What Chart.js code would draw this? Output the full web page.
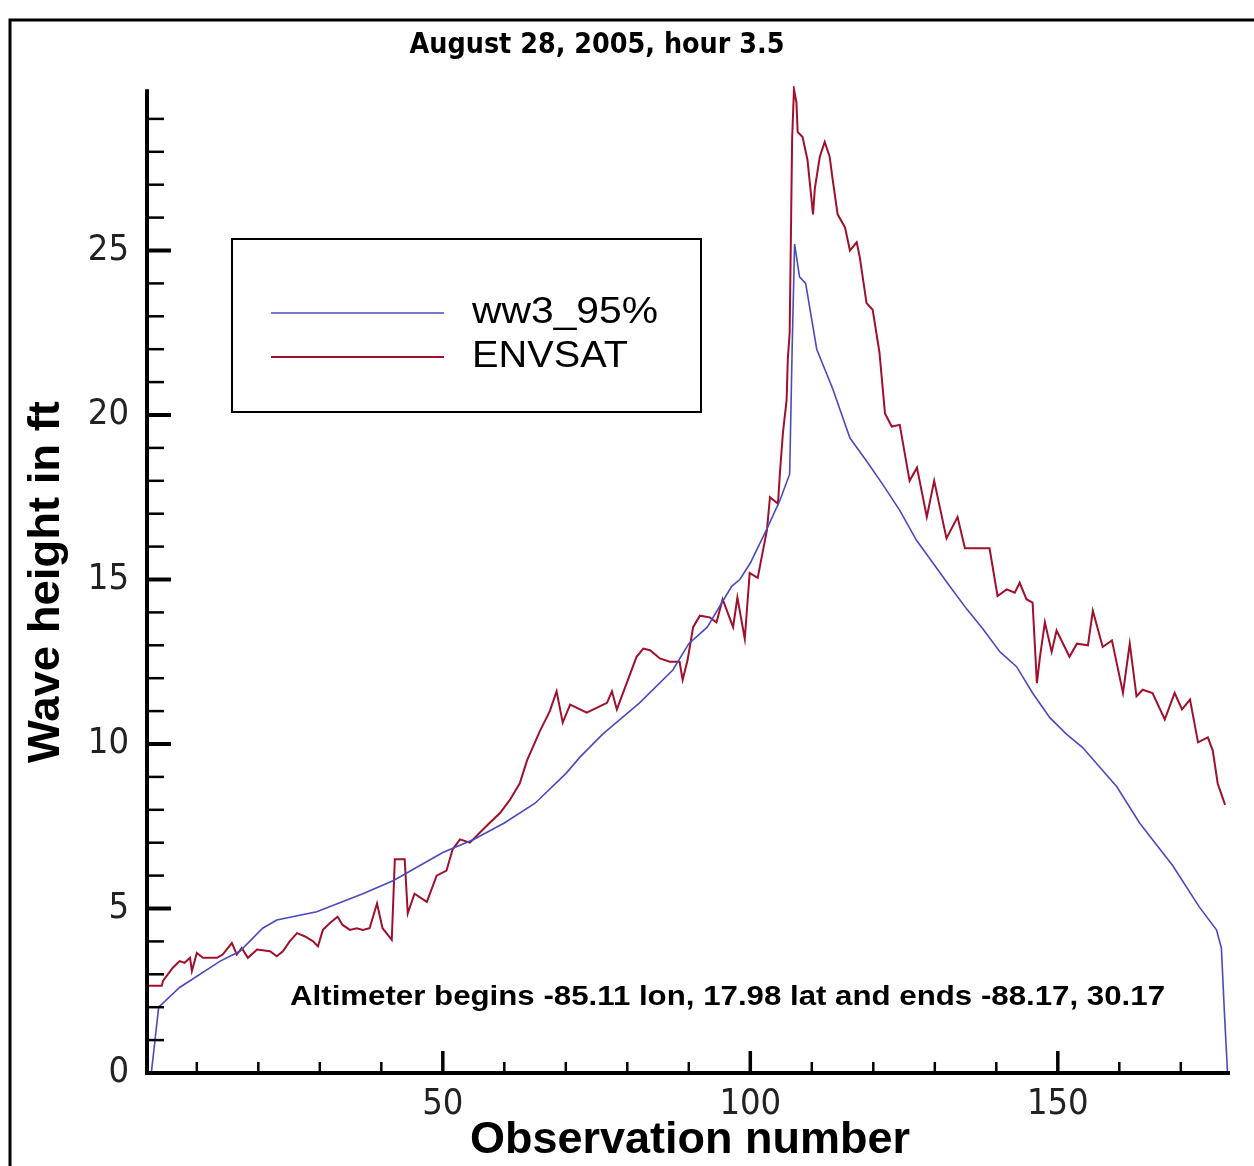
<!DOCTYPE html>
<html>
<head>
<meta charset="utf-8">
<script src="https://cdn.jsdelivr.net/npm/chart.js@4.4.0/dist/chart.umd.min.js"></script>
<style>
  body { margin: 0; background: #fff; }
  canvas { display: block; }
</style>
</head>
<body>
<canvas id="waveChart" width="1254" height="1166"></canvas>
<script>
// ENVSAT altimeter, observation number -> wave height (ft)
var envsatObs = [1.9, 4.3, 4.5, 6.1, 7.2, 8.0, 8.9, 9.2, 10.0, 11.0,
  13.3, 14.2, 15.7, 16.5, 17.3, 18.3, 19.8, 21.9, 23.0, 24.0,
  25.1, 26.3, 27.6, 28.9, 29.7, 30.5, 31.6, 32.9, 33.7, 34.9,
  36.0, 37.0, 38.1, 39.3, 40.2, 41.7, 42.2, 43.8, 44.3, 45.4,
  47.4, 49.0, 50.6, 51.6, 52.8, 54.4, 56.0, 57.6, 59.3, 60.9,
  62.5, 63.7, 65.8, 67.4, 68.5, 69.5, 70.7, 73.4, 75.0, 76.7,
  77.5, 78.3, 79.9, 81.5, 82.6, 83.7, 85.3, 86.9, 88.5, 89.0,
  89.8, 90.7, 91.8, 93.4, 94.5, 95.5, 97.2, 97.9, 99.1, 99.9,
  101.2, 102.7, 103.2, 104.5, 104.8, 105.3, 105.9, 106.1, 106.4, 106.8,
  107.1, 107.5, 107.7, 108.5, 109.3, 110.2, 110.5, 111.3, 112.1, 112.9,
  113.4, 114.2, 115.4, 116.2, 117.3, 117.8, 118.9, 119.9, 121.0, 121.9,
  123.0, 124.3, 125.9, 127.1, 128.7, 129.9, 131.9, 133.7, 134.9, 138.9,
  140.2, 141.7, 143.0, 143.8, 144.9, 145.9, 146.6, 147.1, 147.9, 149.0,
  149.8, 151.9, 153.1, 154.9, 155.7, 157.3, 158.8, 160.6, 161.7, 162.8,
  163.8, 165.4, 167.4, 169.0, 170.2, 171.5, 172.8, 174.4, 175.2, 176.0,
  177.2];
var envsatFt = [2.65, 2.65, 2.8, 3.2, 3.4, 3.35, 3.5, 3.1, 3.65, 3.5,
  3.5, 3.6, 3.95, 3.6, 3.8, 3.5, 3.75, 3.7, 3.55, 3.7,
  4.0, 4.25, 4.15, 4.0, 3.85, 4.35, 4.55, 4.75, 4.5, 4.35,
  4.4, 4.35, 4.4, 5.15, 4.4, 4.05, 6.5, 6.5, 4.85, 5.45,
  5.2, 6.0, 6.15, 6.8, 7.1, 7.0, 7.3, 7.6, 7.9, 8.3,
  8.8, 9.5, 10.4, 11.0, 11.6, 10.65, 11.2, 10.95, 11.1, 11.25,
  11.6, 11.05, 11.85, 12.65, 12.9, 12.85, 12.6, 12.5, 12.5, 11.95,
  12.55, 13.55, 13.9, 13.85, 13.7, 14.4, 13.55, 14.45, 13.2, 15.2,
  15.05, 16.5, 17.5, 17.3, 18.2, 19.45, 20.45, 21.7, 22.5, 28.4,
  29.9, 29.5, 28.6, 28.45, 27.75, 26.1, 26.9, 27.85, 28.3, 27.85,
  27.15, 26.1, 25.7, 25.0, 25.25, 24.8, 23.4, 23.2, 21.9, 20.05,
  19.65, 19.7, 18.0, 18.4, 16.9, 18.0, 16.25, 16.9, 15.95, 15.95,
  14.5, 14.7, 14.6, 14.9, 14.4, 14.3, 11.85, 12.65, 13.7, 12.8,
  13.45, 12.65, 13.05, 13.0, 14.05, 12.95, 13.15, 11.55, 13.05, 11.45,
  11.65, 11.55, 10.75, 11.55, 11.05, 11.35, 10.05, 10.2, 9.8, 8.8,
  8.15];

// ww3 model, 95th percentile
var ww3Obs = [2.6, 3.8, 7.2, 13.8, 17.0, 20.7, 23.0, 29.5, 37.0, 42.0,
  50.0, 55.0, 60.0, 65.0, 70.0, 72.3, 76.0, 82.0, 87.4, 90.0,
  93.0, 97.0, 98.3, 100.0, 102.6, 104.8, 106.4, 106.8, 107.2, 108.0,
  109.0, 110.8, 113.4, 116.2, 118.9, 121.5, 124.3, 127.0, 129.7, 132.4,
  135.2, 137.8, 140.6, 143.3, 145.9, 148.7, 151.4, 154.0, 156.8, 159.6,
  163.3, 168.7, 173.0, 175.8, 176.6, 177.1, 177.6];
var ww3Ft = [0, 2.0, 2.6, 3.4, 3.7, 4.4, 4.65, 4.9, 5.45, 5.85,
  6.7, 7.1, 7.6, 8.2, 9.1, 9.6, 10.3, 11.25, 12.25, 13.05,
  13.55, 14.8, 15.0, 15.5, 16.5, 17.4, 18.2, 22.0, 25.2, 24.2,
  24.0, 22.0, 20.8, 19.3, 18.6, 17.9, 17.1, 16.2, 15.5, 14.8,
  14.1, 13.5, 12.8, 12.35, 11.55, 10.8, 10.3, 9.9, 9.3, 8.7,
  7.6, 6.3, 5.05, 4.35, 3.8, 1.8, 0];

var xTickLabels = [50, 100, 150];
var yTickLabels = [0, 5, 10, 15, 20, 25];
var titleText = 'August 28, 2005, hour 3.5';
var noteText = 'Altimeter begins -85.11 lon, 17.98 lat and ends -88.17, 30.17';
var xTitle = 'Observation number';
var yTitle = 'Wave height in ft';

var SANS = '"Liberation Sans", Arial, sans-serif';
var NARROW = '"Liberation Sans Narrow", "DejaVu Sans Condensed", "Liberation Sans", sans-serif';

function pairs(xs, ys) {
  return xs.map(function (x, i) { return { x: x, y: ys[i] }; });
}

// draw text squeezed/stretched to a given width
function fitText(ctx, text, x, y, width, font, align) {
  ctx.save();
  ctx.font = font;
  ctx.textBaseline = 'middle';
  ctx.textAlign = 'left';
  var k = width / ctx.measureText(text).width;
  ctx.translate(align === 'center' ? x - width / 2 : x, y);
  ctx.scale(k, 1);
  ctx.fillText(text, 0, 0);
  ctx.restore();
}

var decor = {
  id: 'decor',
  afterDraw: function (chart) {
    var ctx = chart.ctx, sx = chart.scales.x, sy = chart.scales.y, a = chart.chartArea;
    var ds = chart.data.datasets;
    ctx.save();
    ctx.fillStyle = '#000';
    ctx.strokeStyle = '#000';

    // outer frame
    ctx.lineWidth = 3;
    ctx.strokeRect(10, 20, 1260, 1170);

    // axes
    ctx.lineWidth = 4;
    ctx.beginPath();
    ctx.moveTo(a.left, sy.getPixelForValue(29.9));
    ctx.lineTo(a.left, a.bottom);
    ctx.lineTo(a.right, a.bottom);
    ctx.stroke();

    // inward ticks
    for (var v = 1; v <= 29; v++) {
      var py = sy.getPixelForValue(v);
      var major = v % 5 === 0;
      ctx.lineWidth = major ? 4 : 2.5;
      ctx.beginPath();
      ctx.moveTo(a.left, py);
      ctx.lineTo(a.left + (major ? 24 : 17), py);
      ctx.stroke();
    }
    for (var t = 10; t <= 170; t += 10) {
      var px = sx.getPixelForValue(t);
      var big = t % 50 === 0;
      ctx.lineWidth = big ? 3.5 : 2.5;
      ctx.beginPath();
      ctx.moveTo(px, a.bottom);
      ctx.lineTo(px, a.bottom - (big ? 22 : 11));
      ctx.stroke();
    }

    // texts
    fitText(ctx, titleText, 597, 46, 375, 'bold 28px ' + NARROW, 'center');
    fitText(ctx, xTitle, 690, 1141, 440, 'bold 44px ' + SANS, 'center');
    ctx.save();
    ctx.translate(47, 582);
    ctx.rotate(-Math.PI / 2);
    fitText(ctx, yTitle, 0, 0, 362, 'bold 44px ' + SANS, 'center');
    ctx.restore();
    fitText(ctx, noteText, 290, 998, 875, 'bold 27px ' + SANS, 'left');

    // legend box
    ctx.fillStyle = '#fff';
    ctx.fillRect(232, 239, 469, 173);
    ctx.lineWidth = 2;
    ctx.strokeRect(232, 239, 469, 173);
    var rows = [313, 357];
    for (var i = 0; i < ds.length; i++) {
      ctx.strokeStyle = ds[i].borderColor;
      ctx.lineWidth = ds[i].borderWidth;
      ctx.beginPath();
      ctx.moveTo(271, rows[i]);
      ctx.lineTo(444, rows[i]);
      ctx.stroke();
      ctx.fillStyle = '#000';
      fitText(ctx, ds[i].label, 472, rows[i], i === 0 ? 186 : 156, '36px ' + SANS, 'left');
    }
    ctx.restore();
  }
};

var ctx = document.getElementById('waveChart').getContext('2d');
var chart = new Chart(ctx, {
  type: 'line',
  data: {
    datasets: [{
      label: 'ww3_95%',
      data: pairs(ww3Obs, ww3Ft),
      borderColor: '#4a4ac0',
      borderWidth: 1.6,
      pointRadius: 0,
      tension: 0,
      fill: false
    }, {
      label: 'ENVSAT',
      data: pairs(envsatObs, envsatFt),
      borderColor: '#a0102c',
      borderWidth: 2,
      pointRadius: 0,
      tension: 0,
      fill: false
    }]
  },
  options: {
    responsive: false,
    animation: false,
    layout: { padding: { top: 86, right: 24, left: 0, bottom: 0 } },
    plugins: {
      legend: { display: false },
      title: { display: false },
      tooltip: { enabled: false }
    },
    scales: {
      x: {
        type: 'linear',
        min: 1.9,
        max: 178,
        grid: { display: false, drawTicks: false },
        border: { display: false },
        afterBuildTicks: function (s) { s.ticks = xTickLabels.map(function (v) { return { value: v }; }); },
        afterFit: function (s) { s.height = 93; },
        ticks: { padding: 10, color: '#222', autoSkip: false, maxRotation: 0, font: { size: 36, family: NARROW } }
      },
      y: {
        min: 0,
        max: 30,
        grid: { display: false, drawTicks: false },
        border: { display: false },
        afterBuildTicks: function (s) { s.ticks = yTickLabels.map(function (v) { return { value: v }; }); },
        afterFit: function (s) { s.width = 147; },
        ticks: { padding: 18, color: '#222', font: { size: 36, family: NARROW } }
      }
    }
  },
  plugins: [decor]
});
</script>
</body>
</html>
